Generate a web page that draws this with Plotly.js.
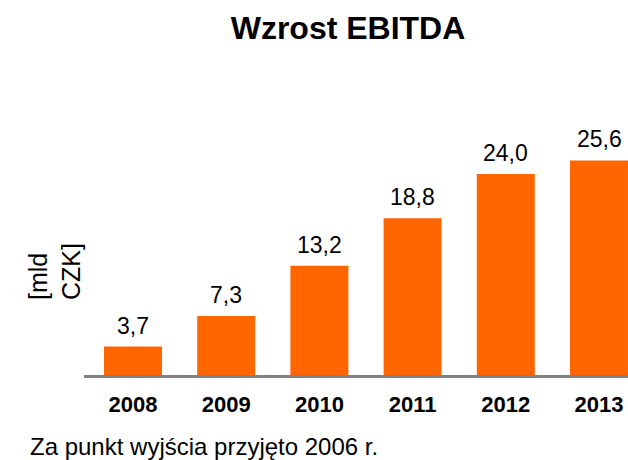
<!DOCTYPE html>
<html><head><meta charset="utf-8">
<script src="https://cdn.plot.ly/plotly-3.0.1.min.js"></script>
<style>html,body{margin:0;padding:0;background:#fff}#chart{width:628px;height:460px}</style>
</head><body><div id="chart"></div>
<script>
const years = ['2008','2009','2010','2011','2012','2013'];
const ebitda = [3.7, 7.3, 13.2, 18.8, 24.0, 25.6];
const valueLabels = ebitda.map(v => v.toFixed(1).replace('.', ','));
const titleText = 'Wzrost EBITDA';
const yTitleLines = ['[mld', 'CZK]'];
const footnote = 'Za punkt wyjścia przyjęto 2006 r.';

const FONT = 'Liberation Sans, Arial, sans-serif';
const W = 628, H = 460, L = 84, R = 0, T = 60, B = 82;
const plotW = W - L - R, plotH = H - T - B;

const trace = {
  type: 'bar', x: years, y: ebitda,
  marker: {color: '#FF6600'}, width: 0.622,
  hoverinfo: 'skip'
};

const annotations = years.map((yr, i) => ({
  x: i, y: ebitda[i], xref: 'x', yref: 'y',
  text: valueLabels[i], showarrow: false,
  xanchor: 'center', yanchor: 'bottom', yshift: 6,
  font: {family: FONT, size: 23, color: '#000'}
}));
annotations.push({
  xref: 'paper', yref: 'paper',
  x: (54 - L) / plotW, y: (H - B - 272) / plotH,
  xanchor: 'center', yanchor: 'middle',
  text: yTitleLines.join('<br>'), textangle: -90, align: 'left',
  showarrow: false, font: {family: FONT, size: 25, color: '#000'}
});
annotations.push({
  xref: 'paper', yref: 'paper',
  x: (28 - L) / plotW, y: (H - B - 446) / plotH,
  xanchor: 'left', yanchor: 'middle',
  text: footnote, showarrow: false,
  font: {family: FONT, size: 24, color: '#000'}
});

const layout = {
  width: W, height: H,
  margin: {l: L, r: R, t: T, b: B},
  paper_bgcolor: '#fff', plot_bgcolor: '#fff',
  separators: ', ',
  title: {
    text: '<b>' + titleText + '</b>', xref: 'container', yref: 'container',
    x: 348 / W, xanchor: 'center', y: 1 - 28 / H, yanchor: 'middle',
    font: {family: FONT, size: 32, color: '#000'}
  },
  xaxis: {
    type: 'category', range: [-(133 - L) / 93.2, (W - 133) / 93.2],
    showline: false, showgrid: false, zeroline: false, ticks: '',
    tickfont: {family: FONT, size: 22, color: '#000', weight: 'bold'},
    ticklabelstandoff: 11
  },
  yaxis: {
    range: [0, plotH / 8.5], showgrid: false, zeroline: false,
    showticklabels: false, ticks: '', showline: false
  },
  shapes: [{
    type: 'line', xref: 'paper', yref: 'y', x0: 0, x1: 1, y0: 0, y1: 0,
    line: {color: '#808080', width: 6}, layer: 'above'
  }],
  annotations: annotations,
  showlegend: false
};

Plotly.newPlot('chart', [trace], layout, {displayModeBar: false, staticPlot: true});
</script></body></html>
